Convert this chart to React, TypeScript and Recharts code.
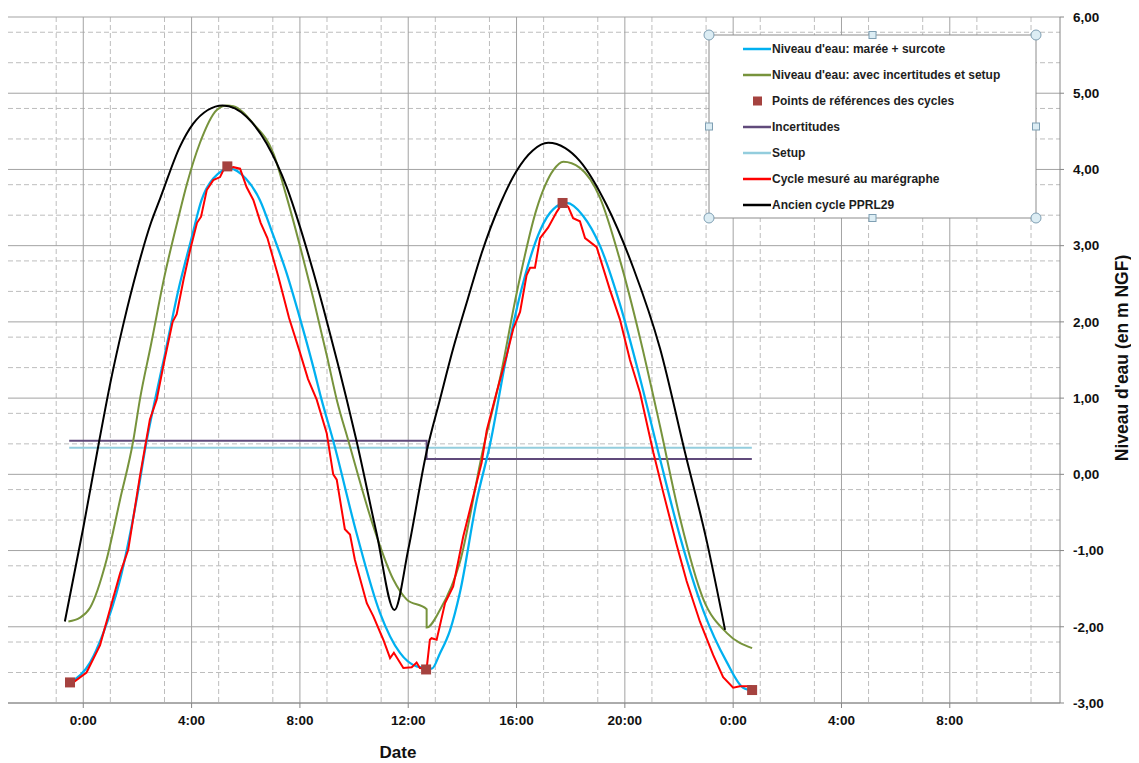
import { ComposedChart, Line, Scatter, XAxis, YAxis, CartesianGrid } from 'recharts';

// hours from the first 0:00, levels in m NGF
const blueHours = [-0.43, 0.25, 0.74, 1.36, 1.97, 2.34, 2.65, 3.0, 3.5, 4.0, 4.37, 4.8, 5.42, 6.0, 6.52, 7.0, 7.5, 8.0, 8.5, 8.8, 9.23, 10.09, 10.96, 11.69, 12.31, 12.87, 13.17, 13.54, 13.91, 14.53, 15.02, 15.63, 16.25, 16.87, 17.36, 17.85, 18.46, 19.08, 19.82, 20.56, 21.3, 22.04, 22.9, 23.76, 24.37, 24.74];
const blueLevels = [-2.72, -2.47, -2.08, -1.38, -0.33, 0.44, 0.98, 1.55, 2.4, 3.1, 3.6, 3.88, 4.01, 3.88, 3.6, 3.15, 2.65, 2.05, 1.4, 0.98, 0.44, -0.77, -1.82, -2.34, -2.52, -2.55, -2.35, -2.05, -1.55, -0.34, 0.39, 1.55, 2.52, 3.2, 3.48, 3.56, 3.39, 3.0, 2.23, 1.26, 0.2, -0.82, -1.79, -2.46, -2.8, -2.84];

const greenHours = [-0.55, -0.12, 0.25, 0.86, 1.36, 1.85, 2.09, 2.5, 3.0, 3.5, 3.82, 4.31, 4.93, 5.3, 5.54, 6.28, 7.02, 7.51, 8.0, 8.5, 9.0, 9.36, 9.79, 10.71, 11.45, 11.94, 12.68, 12.68, 13.17, 13.91, 14.77, 15.39, 16.0, 16.74, 17.36, 17.73, 18.34, 19.08, 19.82, 20.56, 21.3, 22.04, 22.9, 23.76, 24.7];
const greenLevels = [-1.93, -1.88, -1.75, -1.12, -0.33, 0.45, 0.98, 1.7, 2.6, 3.35, 3.8, 4.35, 4.78, 4.84, 4.83, 4.6, 4.21, 3.64, 3.0, 2.3, 1.55, 0.98, 0.44, -0.68, -1.38, -1.64, -1.77, -2.01, -1.78, -1.15, 0.34, 1.26, 2.37, 3.48, 3.99, 4.1, 4.02, 3.63, 2.81, 1.79, 0.63, -0.58, -1.64, -2.08, -2.28];

const blackHours = [-0.68, 0.0, 0.59, 1.0, 1.5, 2.0, 2.5, 2.84, 3.57, 4.06, 4.6, 5.15, 5.6, 6.03, 6.77, 7.51, 8.0, 8.5, 9.0, 9.4, 9.73, 10.09, 10.83, 11.49, 12.0, 12.68, 13.17, 13.66, 14.2, 14.71, 15.4, 16.0, 16.6, 17.17, 17.8, 18.34, 19.33, 20.31, 21.3, 22.22, 23.02, 23.7];
const blackLevels = [-1.93, -0.7, 0.44, 1.2, 2.0, 2.7, 3.3, 3.62, 4.3, 4.6, 4.78, 4.84, 4.8, 4.69, 4.34, 3.77, 3.25, 2.65, 2.0, 1.45, 0.98, 0.44, -0.77, -1.78, -0.99, 0.3, 0.98, 1.65, 2.3, 2.9, 3.55, 3.98, 4.25, 4.35, 4.28, 4.11, 3.53, 2.71, 1.65, 0.29, -0.87, -2.04];

const redHours = [-0.37, 0.12, 0.62, 1.05, 1.36, 1.66, 2.09, 2.46, 2.71, 3.0, 3.3, 3.45, 3.7, 3.95, 4.2, 4.35, 4.56, 4.8, 5.05, 5.17, 5.54, 5.79, 6.03, 6.28, 6.55, 6.8, 7.2, 7.6, 8.0, 8.3, 8.62, 8.99, 9.23, 9.36, 9.66, 9.85, 10.03, 10.47, 10.71, 11.08, 11.33, 11.47, 11.82, 12.13, 12.31, 12.43, 12.68, 12.8, 12.86, 13.05, 13.36, 13.66, 14.03, 14.4, 14.71, 14.9, 15.26, 15.63, 15.88, 16.13, 16.37, 16.5, 16.68, 16.87, 17.17, 17.48, 17.7, 17.91, 18.09, 18.34, 18.53, 18.96, 19.45, 19.82, 20.19, 20.56, 21.05, 21.42, 21.91, 22.28, 22.77, 23.26, 23.63, 24.0, 24.25, 24.7];
const redLevels = [-2.73, -2.6, -2.24, -1.69, -1.3, -0.99, -0.03, 0.72, 0.98, 1.5, 2.0, 2.1, 2.55, 2.95, 3.3, 3.38, 3.73, 3.86, 3.9, 3.99, 4.03, 4.01, 3.77, 3.6, 3.3, 3.1, 2.6, 2.05, 1.6, 1.25, 0.98, 0.54, 0.0, -0.07, -0.72, -0.79, -1.12, -1.69, -1.86, -2.17, -2.41, -2.34, -2.54, -2.53, -2.47, -2.54, -2.55, -2.17, -2.15, -2.17, -1.69, -1.47, -0.82, -0.29, 0.15, 0.58, 1.07, 1.55, 1.91, 2.13, 2.61, 2.71, 2.71, 3.1, 3.24, 3.44, 3.56, 3.51, 3.36, 3.32, 3.1, 2.98, 2.42, 2.03, 1.5, 1.07, 0.29, -0.24, -0.92, -1.4, -1.93, -2.37, -2.66, -2.8, -2.78, -2.78];

const refHours = [-0.49, 5.32, 12.66, 17.7, 24.7];
const refLevels = [-2.73, 4.04, -2.56, 3.56, -2.83];

const uncertHours = [-0.52, 12.68, 12.68, 24.69];
const uncertLevels = [0.44, 0.44, 0.2, 0.2];

const setupHours = [-0.52, 24.69];
const setupLevels = [0.35, 0.35];

const xTicks = [0, 4, 8, 12, 16, 20, 24, 28, 32];
const yTicks = [-3, -2, -1, 0, 1, 2, 3, 4, 5, 6];

const zip = (hs: number[], ls: number[]) => hs.map((h, i) => ({ h, v: ls[i] }));

const minorX: number[] = [];
for (let i = -2; i <= 35; i++) if (i % 4 !== 0) minorX.push(i);
const minorY: number[] = [];
for (let i = -15; i <= 30; i++) if (i % 5 !== 0) minorY.push(i / 5);

const fmtX = (v: number) => `${((v % 24) + 24) % 24}:00`;
const fmtY = (v: number) => v.toFixed(2).replace('.', ',');

const legendRows = [
  { name: "Niveau d'eau: marée + surcote", color: '#00B0F0', kind: 'line' },
  { name: "Niveau d'eau: avec incertitudes et setup", color: '#77933C', kind: 'line' },
  { name: 'Points de références des cycles', color: '#A5423F', kind: 'square' },
  { name: 'Incertitudes', color: '#604A7B', kind: 'line' },
  { name: 'Setup', color: '#93CDDD', kind: 'line' },
  { name: 'Cycle mesuré au marégraphe', color: '#FF0000', kind: 'line' },
  { name: 'Ancien cycle PPRL29', color: '#000000', kind: 'line' },
];

const font = '"Liberation Sans", Arial, sans-serif';

function LegendBox() {
  const bx = 701, by = 27, bw = 327, bh = 183;
  const handleFill = '#dcedf4';
  const handleStroke = '#7f9fb3';
  return (
    <svg width={360} height={210} style={{ position: 'absolute', left: 690, top: 16, overflow: 'visible' }}>
      <g transform="translate(-690,-16)">
        <rect x={bx} y={by} width={bw} height={bh} fill="#ffffff" stroke="#8c8c8c" strokeWidth={1} />
        {legendRows.map((r, i) => {
          const cy = 41 + i * 26;
          return (
            <g key={r.name}>
              {r.kind === 'line' ? (
                <line x1={735} x2={763} y1={cy} y2={cy} stroke={r.color} strokeWidth={2.5} />
              ) : (
                <rect x={745} y={cy - 4.5} width={9} height={9} fill={r.color} />
              )}
              <text x={764} y={cy + 4} fontFamily={font} fontWeight={700} fontSize={12} fill="#1e1e1e">
                {r.name}
              </text>
            </g>
          );
        })}
        {[[bx, by], [bx + bw, by], [bx, by + bh], [bx + bw, by + bh]].map(([x, y], i) => (
          <circle key={'c' + i} cx={x} cy={y} r={5} fill={handleFill} stroke={handleStroke} strokeWidth={1} />
        ))}
        {[[bx + bw / 2, by], [bx, by + bh / 2], [bx + bw, by + bh / 2], [bx + bw / 2, by + bh]].map(([x, y], i) => (
          <rect key={'s' + i} x={x - 3.5} y={y - 3.5} width={7} height={7} fill={handleFill} stroke={handleStroke} strokeWidth={1} />
        ))}
      </g>
    </svg>
  );
}

export default function App() {
  return (
    <div style={{ position: 'relative', width: 1131, height: 755, fontFamily: font }}>
      <ComposedChart width={1131} height={755} margin={{ top: 9, right: 0, bottom: 0, left: 0 }}>
        <CartesianGrid
          verticalValues={minorX}
          horizontalValues={minorY}
          stroke="#bdbdbd"
          strokeDasharray="5 3"
        />
        <CartesianGrid verticalValues={xTicks} horizontalValues={yTicks} stroke="#a3a3a3" />
        <XAxis
          type="number"
          dataKey="h"
          domain={[-2.78, 36.07]}
          allowDataOverflow
          ticks={xTicks}
          tickFormatter={fmtX}
          height={60}
          tickSize={5}
          tickMargin={7}
          stroke="#868686"
          tick={{ fill: '#111', fontSize: 13.5, fontWeight: 700, fontFamily: font }}
        />
        <YAxis
          type="number"
          orientation="right"
          domain={[-3, 6]}
          ticks={yTicks}
          tickFormatter={fmtY}
          width={79}
          tickSize={4}
          tickMargin={9}
          stroke="#868686"
          tick={{ fill: '#111', fontSize: 13.5, fontWeight: 700, fontFamily: font, textAnchor: 'start' }}
        />
        <Line data={zip(setupHours, setupLevels)} dataKey="v" type="linear" stroke="#93CDDD" strokeWidth={2} dot={false} isAnimationActive={false} />
        <Line data={zip(uncertHours, uncertLevels)} dataKey="v" type="linear" stroke="#604A7B" strokeWidth={2} dot={false} isAnimationActive={false} />
        <Line data={zip(greenHours, greenLevels)} dataKey="v" type="monotone" stroke="#77933C" strokeWidth={2} dot={false} isAnimationActive={false} />
        <Line data={zip(blueHours, blueLevels)} dataKey="v" type="monotone" stroke="#00B0F0" strokeWidth={2.25} dot={false} isAnimationActive={false} />
        <Line data={zip(blackHours, blackLevels)} dataKey="v" type="monotone" stroke="#000000" strokeWidth={2} dot={false} isAnimationActive={false} />
        <Line data={zip(redHours, redLevels)} dataKey="v" type="linear" stroke="#FF0000" strokeWidth={2} dot={false} isAnimationActive={false} />
        <Scatter
          data={zip(refHours, refLevels)}
          dataKey="v"
          fill="#A5423F"
          isAnimationActive={false}
          shape={(p: any) => <rect x={p.cx - 5} y={p.cy - 5} width={10} height={10} fill="#A5423F" />}
        />
      </ComposedChart>
      <LegendBox />
      <div style={{ position: 'absolute', left: 350, top: 735, width: 80, textAlign: 'center', fontSize: 17, fontWeight: 700, color: '#111' }}>
        Date
      </div>
      <div
        style={{
          position: 'absolute',
          left: 1114,
          top: 350,
          transform: 'translate(-50%, -50%) rotate(-90deg)',
          whiteSpace: 'nowrap',
          fontSize: 17.5,
          fontWeight: 700,
          color: '#111',
        }}
      >
        Niveau d'eau (en m NGF)
      </div>
    </div>
  );
}
